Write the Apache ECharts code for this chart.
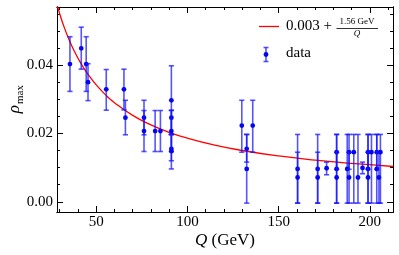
<!DOCTYPE html>
<html><head><meta charset="utf-8">
<script src="https://cdn.jsdelivr.net/npm/echarts@6/dist/echarts.min.js"></script>
<style>html,body{margin:0;padding:0;background:#fff}#c{width:399px;height:255px}</style>
</head><body><div id="c"></div>
<script>
// ---- data ----
var qVals   = [35.6,41.8,44.5,45.5,55.5,65.2,66.0,76.2,76.2,82.3,85.2,91.2,91.2,91.2,91.2,91.2,
               129.8,132.5,132.5,135.8,
               160.4,160.4,171.4,171.4,176.3,181.8,181.8,181.8,187.6,188.6,188.6,191.2,193.5,196.0,
               199.0,199.0,199.0,200.9,203.8,203.8,205.0,205.8];
var rhoVals = [0.0403,0.0449,0.0403,0.0350,0.0329,0.0329,0.0246,0.0246,0.0207,0.0207,0.0207,0.0297,0.0246,0.0207,0.0155,0.0148,
               0.0223,0.0155,0.0096,0.0223,
               0.0096,0.0071,0.0096,0.0071,0.0098,0.0145,0.0096,0.0071,0.0096,0.0145,0.0071,0.0145,0.0071,0.0099,
               0.0145,0.0096,0.0071,0.0145,0.0145,0.0096,0.0071,0.0145];
var rhoLow  = [0.0323,0.0388,0.0323,0.0296,0.0268,0.0269,0.0196,0.0196,0.0147,0.0147,0.0147,0.0197,0.0197,0.0147,0.0120,0.0096,
               0.0145,0.0116,-0.0004,0.0145,
               -0.0004,-0.0004,-0.0004,-0.0004,0.0079,0.0095,-0.0004,-0.0004,-0.0004,0.0095,-0.0004,-0.0004,-0.0004,0.0082,
               0.0095,-0.0004,-0.0004,-0.0004,0.0095,-0.0004,-0.0004,-0.0004];
var rhoHigh = [0.0483,0.0511,0.0483,0.0404,0.0387,0.0388,0.0297,0.0297,0.0267,0.0267,0.0267,0.0398,0.0268,0.0267,0.0197,0.0197,
               0.0297,0.0197,0.0197,0.0297,
               0.0197,0.0145,0.0197,0.0145,0.0116,0.0197,0.0197,0.0145,0.0197,0.0197,0.0145,0.0197,0.0197,0.0116,
               0.0197,0.0197,0.0145,0.0197,0.0197,0.0197,0.0145,0.0197];
// fit curve 0.003 + 1.56 GeV / Q, sampled values
var fitQ   = [28.5,30,32,35,38,42,46,50,55,60,70,80,90,100,115,130,150,170,190,213];
var fitRho = [0.05774,0.0550,0.05175,0.04757,0.04405,0.04014,0.03691,0.0342,0.03136,0.0290,0.02529,0.0225,0.02033,0.0186,0.01657,0.0150,0.0134,0.01218,0.01121,0.01032];
// axis ticks
var xMajor = [50,100,150,200];
var xMinor = [30,40,60,70,80,90,110,120,130,140,160,170,180,190,210];
var yMajor = [0,0.02,0.04];
var yMinor = [0.005,0.01,0.015,0.025,0.03,0.035,0.045,0.05,0.055];

var X_MIN = 28.5, X_MAX = 212.7, Y_MIN = -0.003, Y_MAX = 0.057;
var FONT = 'Liberation Serif';
var BAR = 'rgba(20,20,255,0.72)', PT = '#0505f0';

var errData = qVals.map(function(q,i){ return [q, rhoVals[i], rhoLow[i], rhoHigh[i]]; });
var fitData = fitQ.map(function(q,i){ return [q, fitRho[i]]; });

function xAx(pos, vals, len, labels){
  return {type:'value', position:pos, min:X_MIN, max:X_MAX, splitLine:{show:false},
    axisLine:{show:true, onZero:false, lineStyle:{color:'#000', width:1}},
    axisTick:{show:true, inside:true, length:len, customValues:vals, lineStyle:{color:'#000', width:1}},
    axisLabel:{show:labels, customValues:vals, fontFamily:FONT, fontSize:15, color:'#000', margin:3}};
}
function yAx(pos, vals, len, labels){
  return {type:'value', position:pos, min:Y_MIN, max:Y_MAX, splitLine:{show:false},
    axisLine:{show:true, onZero:false, lineStyle:{color:'#000', width:1}},
    axisTick:{show:true, inside:true, length:len, customValues:vals, lineStyle:{color:'#000', width:1}},
    axisLabel:{show:labels, customValues:vals, fontFamily:FONT, fontSize:15, color:'#000', margin:4,
      formatter:function(v){ return v.toFixed(2); }}};
}

var chart = echarts.init(document.getElementById('c'), null, {renderer:'canvas'});
chart.setOption({
  animation:false,
  grid:{left:57, right:6, top:7, bottom:43},
  xAxis:[xAx('bottom', xMajor, 6, true), xAx('bottom', xMinor, 3, false), xAx('top', xMajor, 6, false), xAx('top', xMinor, 3, false)],
  yAxis:[yAx('left', yMajor, 6, true), yAx('left', yMinor, 3, false), yAx('right', yMajor, 6, false), yAx('right', yMinor, 3, false)],
  series:[
    {type:'line', data:fitData, smooth:true, showSymbol:false, clip:true,
     lineStyle:{color:'#ff0000', width:1.3}, z:3},
    {type:'custom', data:errData, clip:true, z:4,
     renderItem:function(params, api){
       var x = api.value(0);
       var p = api.coord([x, api.value(1)]);
       var lo = api.coord([x, api.value(2)]);
       var hi = api.coord([x, api.value(3)]);
       var cw = 2.6;
       var st = {stroke:BAR, lineWidth:1.6};
       return {type:'group', children:[
         {type:'line', shape:{x1:hi[0], y1:hi[1], x2:lo[0], y2:lo[1]}, style:st},
         {type:'line', shape:{x1:hi[0]-cw, y1:hi[1], x2:hi[0]+cw, y2:hi[1]}, style:st},
         {type:'line', shape:{x1:lo[0]-cw, y1:lo[1], x2:lo[0]+cw, y2:lo[1]}, style:st},
         {type:'circle', shape:{cx:p[0], cy:p[1], r:2.4}, style:{fill:PT}}
       ]};
     }}
  ],
  graphic:[
    // legend: fit line
    {type:'line', shape:{x1:259, y1:26.5, x2:279, y2:26.5}, style:{stroke:'#ff0000', lineWidth:1.3}},
    {type:'text', left:286, top:19, style:{text:'0.003 +', font:'15px "Liberation Serif"', fill:'#000'}},
    {type:'text', x:357, y:22, style:{text:'1.56 GeV', font:'9px "Liberation Serif"', fill:'#000', textAlign:'center', textVerticalAlign:'middle'}},
    {type:'line', shape:{x1:336.5, y1:28.5, x2:378, y2:28.5}, style:{stroke:'#000', lineWidth:0.8}},
    {type:'text', x:357, y:34, style:{text:'Q', font:'italic 9px "Liberation Serif"', fill:'#000', textAlign:'center', textVerticalAlign:'middle'}},
    // legend: data
    {type:'line', shape:{x1:266, y1:47.5, x2:266, y2:61.5}, style:{stroke:BAR, lineWidth:1.6}},
    {type:'line', shape:{x1:263.5, y1:47.5, x2:268.5, y2:47.5}, style:{stroke:BAR, lineWidth:1.6}},
    {type:'line', shape:{x1:263.5, y1:61.5, x2:268.5, y2:61.5}, style:{stroke:BAR, lineWidth:1.6}},
    {type:'circle', shape:{cx:266, cy:54.5, r:2.4}, style:{fill:PT}},
    {type:'text', left:286, top:46, style:{text:'data', font:'15px "Liberation Serif"', fill:'#000'}},
    // y axis title rho_max (rotated)
    {type:'group', x:15, y:97, rotation:Math.PI/2, children:[
      {type:'text', x:-8, y:0, style:{text:'ρ', font:'italic 17px "Liberation Serif"', fill:'#000', textAlign:'right', textVerticalAlign:'middle'}},
      {type:'text', x:-7, y:5, style:{text:'max', font:'11px "Liberation Serif"', fill:'#000', textAlign:'left', textVerticalAlign:'middle'}}
    ]},
    // x axis title
    {type:'text', x:225, y:241, style:{text:'{i|Q} (GeV)', font:'17px "Liberation Serif"', fill:'#000', textAlign:'center', textVerticalAlign:'middle',
      rich:{i:{fontStyle:'italic', fontFamily:FONT, fontSize:17}}}}
  ]
});
</script></body></html>
